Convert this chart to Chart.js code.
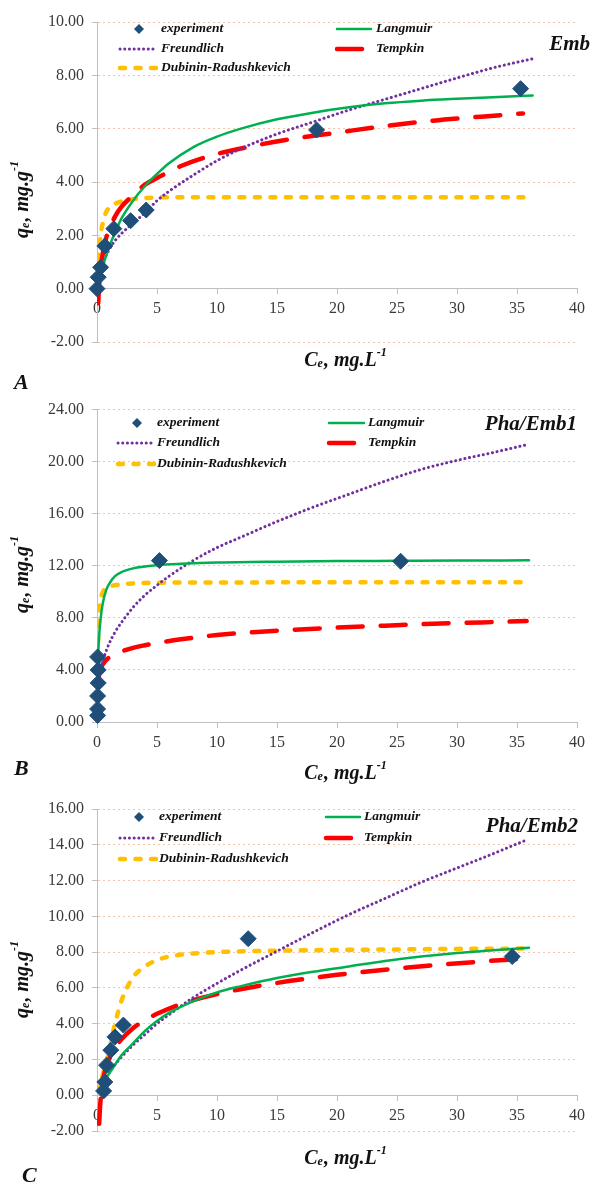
<!DOCTYPE html>
<html>
<head>
<meta charset="utf-8">
<script src="https://cdn.jsdelivr.net/npm/chart.js@4.4.1/dist/chart.umd.min.js"></script>
<style>
body { margin: 0; background: #fff; }
.panel { position: absolute; left: 0; width: 593px; }
canvas { display: block; }
</style>
</head>
<body>
<div class="panel" style="top:0px"><canvas id="chartA" width="593" height="392"></canvas></div>
<div class="panel" style="top:392px"><canvas id="chartB" width="593" height="398"></canvas></div>
<div class="panel" style="top:790px"><canvas id="chartC" width="593" height="395"></canvas></div>
<script>
// x axis ticks (Ce, mg/L) shared by all three panels
var ceTicks = [0, 5, 10, 15, 20, 25, 30, 35, 40];

// ---- A : Emb ----
var embYTicks = [-2, 0, 2, 4, 6, 8, 10];
var embExpCe = [0, 0.1, 0.3, 0.65, 1.4, 2.8, 4.1, 18.3, 35.3];
var embExpQe = [0, 0.43, 0.8, 1.6, 2.25, 2.55, 2.95, 5.95, 7.5];
var embLangCe = [0.2, 0.5, 1, 1.5, 2, 3, 4, 5, 6, 8, 10, 12, 15, 18, 21, 24, 27, 30, 33, 36.3];
var embLangQe = [0.3, 0.85, 1.55, 2.1, 2.6, 3.3, 3.85, 4.3, 4.7, 5.3, 5.7, 6.0, 6.35, 6.6, 6.8, 6.95, 7.05, 7.12, 7.18, 7.24];
var embFreCe = [0.1, 0.3, 0.6, 1, 1.5, 2, 3, 4, 5, 6, 8, 10, 12, 15, 18, 21, 24, 27, 30, 33, 36.3];
var embFreQe = [0.4, 0.8, 1.1, 1.45, 1.8, 2.05, 2.45, 2.85, 3.3, 3.65, 4.25, 4.8, 5.25, 5.8, 6.25, 6.7, 7.1, 7.5, 7.9, 8.28, 8.62];
var embTemCe = [0.1, 0.2, 0.4, 0.7, 1, 1.5, 2, 3, 4, 5, 7, 10, 13, 16, 20, 24, 28, 32, 35.5];
var embTemQe = [-0.55, 0.3, 1.1, 1.8, 2.2, 2.7, 3.05, 3.5, 3.9, 4.15, 4.6, 5.05, 5.35, 5.6, 5.85, 6.1, 6.3, 6.45, 6.57];
var embDrCe = [0.05, 0.15, 0.3, 0.5, 0.8, 1.2, 1.7, 2.5, 3.5, 5, 8, 12, 20, 28, 35.8];
var embDrQe = [0.5, 1.3, 2.0, 2.5, 2.9, 3.1, 3.22, 3.32, 3.38, 3.42, 3.43, 3.43, 3.43, 3.43, 3.43];

// ---- B : Pha/Emb1 ----
var ph1YTicks = [0, 4, 8, 12, 16, 20, 24];
var ph1ExpCe = [0.05, 0.05, 0.05, 0.1, 0.1, 0.05, 5.2, 25.3];
var ph1ExpQe = [0.5, 1, 2, 3, 4, 5, 12.4, 12.35];
var ph1LangCe = [0.05, 0.1, 0.2, 0.35, 0.5, 0.75, 1, 1.5, 2, 3, 4, 5, 7, 10, 15, 20, 25, 30, 36];
var ph1LangQe = [3.8, 5.2, 6.9, 8.3, 9.2, 10.1, 10.6, 11.2, 11.5, 11.8, 11.95, 12.05, 12.15, 12.25, 12.32, 12.36, 12.38, 12.4, 12.42];
var ph1FreCe = [0.2, 0.3, 0.6, 1, 1.5, 2, 3, 4, 5, 6, 8, 10, 12, 15, 18, 21, 24, 27, 30, 33, 35.8];
var ph1FreQe = [3.4, 3.9, 5.0, 6.0, 6.9, 7.6, 8.8, 9.75, 10.5, 11.2, 12.4, 13.4, 14.2, 15.4, 16.5, 17.5, 18.5, 19.4, 20.1, 20.7, 21.3];
var ph1TemCe = [0.1, 0.2, 0.4, 0.7, 1, 1.5, 2, 3, 4, 5, 7, 10, 13, 16, 20, 24, 28, 32, 35.8];
var ph1TemQe = [3.2, 3.8, 4.3, 4.7, 4.95, 5.2, 5.4, 5.7, 5.9, 6.07, 6.35, 6.68, 6.9, 7.07, 7.25, 7.4, 7.55, 7.65, 7.75];
var ph1DrCe = [0.05, 0.1, 0.2, 0.3, 0.5, 0.8, 1.2, 2, 3, 5, 10, 20, 30, 35.8];
var ph1DrQe = [5.0, 6.8, 8.6, 9.4, 10.0, 10.3, 10.45, 10.58, 10.65, 10.7, 10.72, 10.73, 10.73, 10.73];

// ---- C : Pha/Emb2 ----
var ph2YTicks = [-2, 0, 2, 4, 6, 8, 10, 12, 14, 16];
var ph2ExpCe = [0.55, 0.65, 0.8, 1.15, 1.5, 2.2, 12.6, 34.6];
var ph2ExpQe = [0.24, 0.74, 1.68, 2.52, 3.26, 3.92, 8.75, 7.75];
var ph2LangCe = [0.8, 1, 1.5, 2, 3, 4, 5, 6, 8, 10, 12, 15, 18, 21, 24, 27, 30, 33, 36];
var ph2LangQe = [1.0, 1.2, 1.7, 2.2, 2.9, 3.6, 4.15, 4.6, 5.25, 5.75, 6.1, 6.55, 6.9, 7.2, 7.5, 7.75, 7.95, 8.1, 8.25];
var ph2FreCe = [0.8, 1, 1.5, 2, 3, 4, 5, 6, 8, 10, 12, 15, 18, 21, 24, 27, 30, 33, 35.9];
var ph2FreQe = [1.05, 1.25, 1.7, 2.1, 2.8, 3.4, 4.0, 4.5, 5.45, 6.25, 7.0, 8.05, 9.1, 10.1, 11.0, 11.9, 12.7, 13.5, 14.3];
var ph2TemCe = [0.18, 0.25, 0.4, 0.7, 1, 1.5, 2, 3, 4, 5, 7, 10, 13, 16, 20, 24, 28, 32, 35.9];
var ph2TemQe = [-1.6, -0.7, 0.4, 1.45, 2.0, 2.65, 3.1, 3.75, 4.2, 4.55, 5.1, 5.65, 6.05, 6.38, 6.73, 7.02, 7.26, 7.47, 7.65];
var ph2DrCe = [0.1, 0.5, 1, 1.5, 2, 2.5, 3, 4, 5, 6, 8, 10, 15, 20, 25, 30, 35.9];
var ph2DrQe = [0.2, 1.2, 2.5, 4.0, 5.2, 6.0, 6.6, 7.2, 7.55, 7.75, 7.92, 8.0, 8.08, 8.12, 8.15, 8.18, 8.2];

var serif = '"Liberation Serif", "Times New Roman", serif';
var axisGray = '#bfbfbf';
var gridPeach = '#f6c4a3';

var lineStyles = {
    'Langmuir': { borderColor: '#00b050', borderWidth: 2.5, borderDash: [], borderCapStyle: 'round' },
    'Freundlich': { borderColor: '#7030a0', borderWidth: 3, borderDash: [0.1, 4.6], borderCapStyle: 'round' },
    'Tempkin': { borderColor: '#ff0000', borderWidth: 4.5, borderDash: [25, 18], borderCapStyle: 'round' },
    'Dubinin-Radushkevich': { borderColor: '#ffc000', borderWidth: 4.5, borderDash: [5, 10.5], borderCapStyle: 'round' }
};
var expColor = '#1f4e79';

function pts(xs, ys) {
    return xs.map(function (x, i) { return { x: x, y: ys[i] }; });
}

function curve(label, xs, ys) {
    var s = lineStyles[label];
    return {
        label: label,
        type: 'line',
        data: pts(xs, ys),
        borderColor: s.borderColor,
        borderWidth: s.borderWidth,
        borderDash: s.borderDash,
        borderCapStyle: s.borderCapStyle,
        backgroundColor: 'transparent',
        pointRadius: 0,
        fill: false,
        cubicInterpolationMode: 'monotone'
    };
}

// rich text with sub/superscripts
function partFont(p, size) {
    var s = (p.sub || p.sup) ? Math.round(size * 0.62) : size;
    return 'italic bold ' + s + 'px ' + serif;
}
function drawRich(ctx, parts, cx, cy, size) {
    var w = 0;
    parts.forEach(function (p) { ctx.font = partFont(p, size); w += ctx.measureText(p.t).width; });
    var x = cx - w / 2;
    ctx.textAlign = 'left';
    parts.forEach(function (p) {
        ctx.font = partFont(p, size);
        var dy = p.sub ? size * 0.15 : (p.sup ? -size * 0.38 : 0);
        ctx.fillText(p.t, x, cy + dy);
        x += ctx.measureText(p.t).width + (p.sub ? 1 : 0);
    });
}
var xTitleParts = [{ t: 'C' }, { t: 'e', sub: true }, { t: ', mg.L' }, { t: '-1', sup: true }];
var yTitleParts = [{ t: 'q' }, { t: 'e', sub: true }, { t: ', mg.g' }, { t: '-1', sup: true }];

var panelText = {
    id: 'panelText',
    afterDraw: function (chart, args, o) {
        var ctx = chart.ctx;
        ctx.save();
        ctx.fillStyle = '#111';
        ctx.textBaseline = 'alphabetic';
        ctx.font = 'italic bold 21px ' + serif;
        ctx.textAlign = 'right';
        ctx.fillText(o.title, o.titleX, o.titleY);
        ctx.font = 'italic bold 22px ' + serif;
        ctx.textAlign = 'left';
        ctx.fillText(o.letter, o.letterX, o.letterY);

        ctx.textBaseline = 'middle';
        drawRich(ctx, xTitleParts, o.xTitle[0], o.xTitle[1], 20);
        ctx.save();
        ctx.translate(o.yTitle[0], o.yTitle[1]);
        ctx.rotate(-Math.PI / 2);
        drawRich(ctx, yTitleParts, 0, 0, 20);
        ctx.restore();

        // legend, two columns
        var L = o.legend;
        var rows = [
            ['experiment', L.c1, L.rows[0]],
            ['Langmuir', L.c2, L.rows[0]],
            ['Freundlich', L.c1, L.rows[1]],
            ['Tempkin', L.c2, L.rows[1]],
            ['Dubinin-Radushkevich', L.c1, L.rows[2]]
        ];
        rows.forEach(function (r) {
            var name = r[0], col = r[1], y = r[2];
            if (name === 'experiment') {
                ctx.fillStyle = expColor;
                ctx.beginPath();
                ctx.moveTo(L.diamondX, y - 5);
                ctx.lineTo(L.diamondX + 5, y);
                ctx.lineTo(L.diamondX, y + 5);
                ctx.lineTo(L.diamondX - 5, y);
                ctx.closePath();
                ctx.fill();
            } else {
                var s = lineStyles[name];
                ctx.save();
                ctx.strokeStyle = s.borderColor;
                ctx.lineWidth = s.borderWidth;
                ctx.lineCap = s.borderCapStyle;
                ctx.setLineDash(s.borderDash);
                ctx.beginPath();
                ctx.moveTo(col[0], y);
                ctx.lineTo(col[1], y);
                ctx.stroke();
                ctx.restore();
            }
            ctx.fillStyle = '#111';
            ctx.font = 'italic bold 13.5px ' + serif;
            ctx.textAlign = 'left';
            ctx.fillText(name, col[2], y);
        });
        ctx.restore();
    }
};

function makeChart(id, yTicks, sets, pad, text) {
    var datasets = [{
        label: 'experiment',
        type: 'scatter',
        data: pts(sets.exp[0], sets.exp[1]),
        pointStyle: 'rectRot',
        pointRadius: 8,
        pointBackgroundColor: expColor,
        pointBorderColor: expColor,
        clip: false
    },
        curve('Langmuir', sets.lang[0], sets.lang[1]),
        curve('Freundlich', sets.fre[0], sets.fre[1]),
        curve('Tempkin', sets.tem[0], sets.tem[1]),
        curve('Dubinin-Radushkevich', sets.dr[0], sets.dr[1])
    ];
    return new Chart(document.getElementById(id), {
        type: 'scatter',
        data: { datasets: datasets },
        plugins: [panelText],
        options: {
            responsive: false,
            animation: false,
            layout: { padding: pad },
            plugins: {
                legend: { display: false },
                tooltip: { enabled: false },
                panelText: text
            },
            scales: {
                x: {
                    type: 'linear',
                    position: { y: 0 },
                    min: ceTicks[0],
                    max: ceTicks[ceTicks.length - 1],
                    afterBuildTicks: function (s) { s.ticks = ceTicks.map(function (v) { return { value: v }; }); },
                    ticks: { font: { family: serif, size: 16 }, color: '#3a3a3a', padding: 6, maxRotation: 0 },
                    grid: { drawOnChartArea: false, tickLength: 5, tickColor: axisGray },
                    border: { color: axisGray, width: 1 }
                },
                y: {
                    min: yTicks[0],
                    max: yTicks[yTicks.length - 1],
                    afterBuildTicks: function (s) { s.ticks = yTicks.map(function (v) { return { value: v }; }); },
                    afterFit: function (s) { s.width = 97; },
                    ticks: {
                        font: { family: serif, size: 16 }, color: '#3a3a3a', padding: 8,
                        callback: function (v) { return Number(v).toFixed(2); }
                    },
                    grid: { color: gridPeach, lineWidth: 1, tickLength: 5, tickColor: axisGray },
                    border: { color: axisGray, width: 1, dash: [2, 3] }
                }
            }
        }
    });
}

makeChart('chartA', embYTicks, {
    exp: [embExpCe, embExpQe], lang: [embLangCe, embLangQe], fre: [embFreCe, embFreQe],
    tem: [embTemCe, embTemQe], dr: [embDrCe, embDrQe]
}, { left: 0, top: 22, right: 16, bottom: 50 }, {
    title: 'Emb', titleX: 590, titleY: 50, letter: 'A', letterX: 14, letterY: 389,
    xTitle: [345, 361], yTitle: [23, 200],
    legend: { c1: [120, 156, 161], c2: [337, 371, 376], diamondX: 139, rows: [29, 49, 68] }
});

makeChart('chartB', ph1YTicks, {
    exp: [ph1ExpCe, ph1ExpQe], lang: [ph1LangCe, ph1LangQe], fre: [ph1FreCe, ph1FreQe],
    tem: [ph1TemCe, ph1TemQe], dr: [ph1DrCe, ph1DrQe]
}, { left: 0, top: 9, right: 16, bottom: 68 }, {
    title: 'Pha/Emb1', titleX: 577, titleY: 38, letter: 'B', letterX: 14, letterY: 383,
    xTitle: [345, 382], yTitle: [23, 183],
    legend: { c1: [118, 155, 157], c2: [329, 364, 368], diamondX: 137, rows: [31, 51, 72] }
});

makeChart('chartC', ph2YTicks, {
    exp: [ph2ExpCe, ph2ExpQe], lang: [ph2LangCe, ph2LangQe], fre: [ph2FreCe, ph2FreQe],
    tem: [ph2TemCe, ph2TemQe], dr: [ph2DrCe, ph2DrQe]
}, { left: 0, top: 19, right: 16, bottom: 54 }, {
    title: 'Pha/Emb2', titleX: 578, titleY: 42, letter: 'C', letterX: 22, letterY: 392,
    xTitle: [345, 369], yTitle: [23, 190],
    legend: { c1: [120, 156, 159], c2: [326, 360, 364], diamondX: 139, rows: [27, 48, 69] }
});
</script>
</body>
</html>
